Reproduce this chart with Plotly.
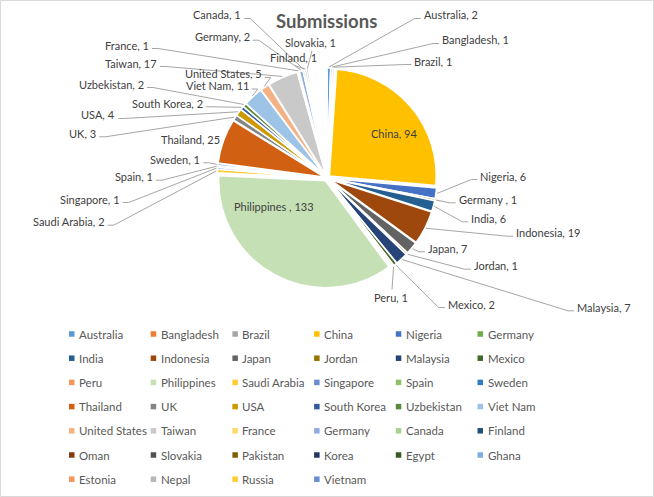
import math
import plotly.graph_objects as go

W, H = 654, 497

# ---------------- data ----------------
countries = ["Australia", "Bangladesh", "Brazil", "China", "Nigeria", "Germany ", "India",
             "Indonesia", "Japan", "Jordan", "Malaysia", "Mexico", "Peru", "Philippines",
             "Saudi Arabia", "Singapore", "Spain", "Sweden", "Thailand", "UK", "USA",
             "South Korea", "Uzbekistan", "Viet Nam", "United States", "Taiwan", "France",
             "Germany", "Canada", "Finland", "Oman", "Slovakia", "Pakistan", "Korea", "Egypt",
             "Ghana", "Estonia", "Nepal", "Russia", "Vietnam"]
submissions = [2, 1, 1, 94, 6, 1, 6, 19, 7, 1, 7, 2, 1, 133, 2, 1, 1, 1, 25, 3, 4, 2, 2, 11,
               5, 17, 1, 2, 1, 1, None, 1, None, None, None, None, None, None, None, None]
label_names = {"Germany ": "Germany ", "Philippines": "Philippines "}
unlabeled_remainder = 10  # blank (unlabelled) part of the pie at 12 o'clock

colors = ["#5B9BD5", "#ED7D31", "#A5A5A5", "#FFC000", "#4472C4", "#70AD47",
          "#255E91", "#9E480E", "#636363", "#997300", "#264478", "#43682B",
          "#F1975A", "#C5E0B4", "#FFCD33", "#698ED0", "#8CC168", "#327DC2",
          "#D26012", "#848484", "#CC9A00", "#335AA1", "#5A8A39", "#9DC3E6",
          "#F4B183", "#C9C9C9", "#FFD966", "#8FAADC", "#A9D18E", "#1F4E79",
          "#843C0C", "#525252", "#7F6000", "#203864", "#385723", "#7CAFDD",
          "#F1975A", "#B7B7B7", "#FFCD33", "#698ED0"]

# ---------------- layout helpers (pixels) ----------------
CX, CY, R = 327, 178, 110
PULL = 0.03

def px(x):
    return x / W

def py(y):
    return 1 - y / H

# label placement: name -> (x, y, side)  side: L = text right edge, R = text left edge,
# C = centred inside, B = below (line to top), T = above (line to bottom)
label_pos = {
    "Australia": (421.7, 15, "R"), "Bangladesh": (440, 40, "R"), "Brazil": (412.3, 61, "R"),
    "China": (394, 133.5, "C"), "Nigeria": (478.3, 176, "R"), "Germany ": (456.7, 199.3, "R"),
    "India": (469.3, 218.3, "R"), "Indonesia": (514.3, 232.7, "R"), "Japan": (426, 248.3, "R"),
    "Jordan": (471.7, 265.7, "R"), "Malaysia": (575, 307.3, "R"), "Mexico": (445.7, 304, "R"),
    "Peru": (391, 297.3, "B"), "Philippines": (274, 206, "C"),
    "Saudi Arabia": (106.7, 221.7, "L"), "Singapore": (121.7, 199, "L"), "Spain": (155, 176.7, "L"),
    "Sweden": (202.3, 159.3, "L"), "Thailand": (190, 139.3, "C"), "UK": (98.3, 133.3, "L"),
    "USA": (117.3, 115, "L"), "South Korea": (205, 103.3, "L"), "Uzbekistan": (146, 84, "L"),
    "Viet Nam": (250.7, 85.5, "L"), "United States": (263.7, 74, "L"), "Taiwan": (159, 63, "L"),
    "France": (151, 45, "L"), "Germany": (251.7, 36.7, "L"), "Canada": (243.3, 15, "L"),
    "Finland": (293, 57.7, "T"), "Slovakia": (310, 42.7, "T"),
}

# ---------------- pie ----------------
pie_labels = [c for c, v in zip(countries, submissions) if v is not None] + ["(blank)"]
pie_values = [v for v in submissions if v is not None] + [unlabeled_remainder]
pie_colors = [col for col, v in zip(colors, submissions) if v is not None] + ["rgba(0,0,0,0)"]
pie_pull = [PULL] * (len(pie_values) - 1) + [0]

fig = go.Figure()
fig.add_trace(go.Pie(
    labels=pie_labels, values=pie_values, sort=False, direction="clockwise", rotation=0,
    marker=dict(colors=pie_colors, line=dict(color="white", width=1.5)),
    pull=pie_pull, textinfo="none", hoverinfo="label+value", showlegend=False,
    domain=dict(x=[px(CX - R), px(CX + R)], y=[py(CY + R), py(CY - R)]),
))

shapes, annotations = [], []
LBL_FONT = dict(family="Lato, Liberation Sans, sans-serif", size=11, color="#404040")
total = sum(pie_values)
cum = 0
for name, v in zip(pie_labels, pie_values):
    mid = (cum + v / 2) / total * 2 * math.pi
    cum += v
    if name not in label_pos:
        continue
    text = f"{label_names.get(name, name)}, {v}"
    x, y, side = label_pos[name]
    if side == "C":
        annotations.append(dict(x=px(x), y=py(y), xref="paper", yref="paper", text=text,
                                showarrow=False, xanchor="center", yanchor="middle", font=LBL_FONT))
        continue
    xa = {"R": "left", "L": "right", "B": "center", "T": "center"}[side]
    annotations.append(dict(x=px(x), y=py(y), xref="paper", yref="paper", text=text,
                            showarrow=False, xanchor=xa, yanchor="middle", font=LBL_FONT))
    sx = CX + (R + 1) * math.sin(mid)
    sy = CY - (R + 1) * math.cos(mid)
    if side == "R":
        ex, ey = x - 1, y + 3.5
        mx, my = ex - 6, ey
    elif side == "L":
        ex, ey = x + 1, y + 3.5
        mx, my = ex + 6, ey
    elif side == "B":
        ex, ey = x + 1, y - 8
        mx, my = ex, ey
    else:
        ex, ey = x + 2, y + 8
        mx, my = ex, ey
    path = f"M {px(sx)} {py(sy)} L {px(mx)} {py(my)} L {px(ex)} {py(ey)}"
    shapes.append(dict(type="path", xref="paper", yref="paper", path=path,
                       line=dict(color="#A6A6A6", width=1)))

# ---------------- legend (Excel style grid) ----------------
LEG_X0, LEG_DX, LEG_Y0, LEG_DY, NCOL = 69, 81.7, 334, 24.2, 6
LEG_FONT = dict(family="Lato, Liberation Sans, sans-serif", size=11.5, color="#595959")
for i, (name, col) in enumerate(zip(countries, colors)):
    r, c = divmod(i, NCOL)
    x = LEG_X0 + c * LEG_DX
    y = LEG_Y0 + r * LEG_DY
    shapes.append(dict(type="rect", xref="paper", yref="paper",
                       x0=px(x), x1=px(x + 5.5), y0=py(y - 2.75), y1=py(y + 2.75),
                       fillcolor=col, line=dict(width=0)))
    annotations.append(dict(x=px(x + 8), y=py(y), xref="paper", yref="paper", text=name.strip(),
                            showarrow=False, xanchor="left", yanchor="middle", font=LEG_FONT))

# title
annotations.append(dict(x=px(326), y=py(21), xref="paper", yref="paper", text="<b>Submissions</b>",
                        showarrow=False, xanchor="center", yanchor="middle",
                        font=dict(family="Lato, Liberation Sans, sans-serif", size=18.5, color="#595959")))

# chart-area border
shapes.append(dict(type="rect", xref="paper", yref="paper", x0=px(0.5), x1=px(W - 0.5),
                   y0=py(H - 0.5), y1=py(0.5), line=dict(color="#D9D9D9", width=1)))

fig.update_layout(width=W, height=H, margin=dict(l=0, r=0, t=0, b=0),
                  paper_bgcolor="white", plot_bgcolor="white",
                  shapes=shapes, annotations=annotations, showlegend=False)
fig.write_html("out.html", config={"displayModeBar": False},
               post_script="document.body.style.margin='0';document.body.style.overflow='hidden';")
